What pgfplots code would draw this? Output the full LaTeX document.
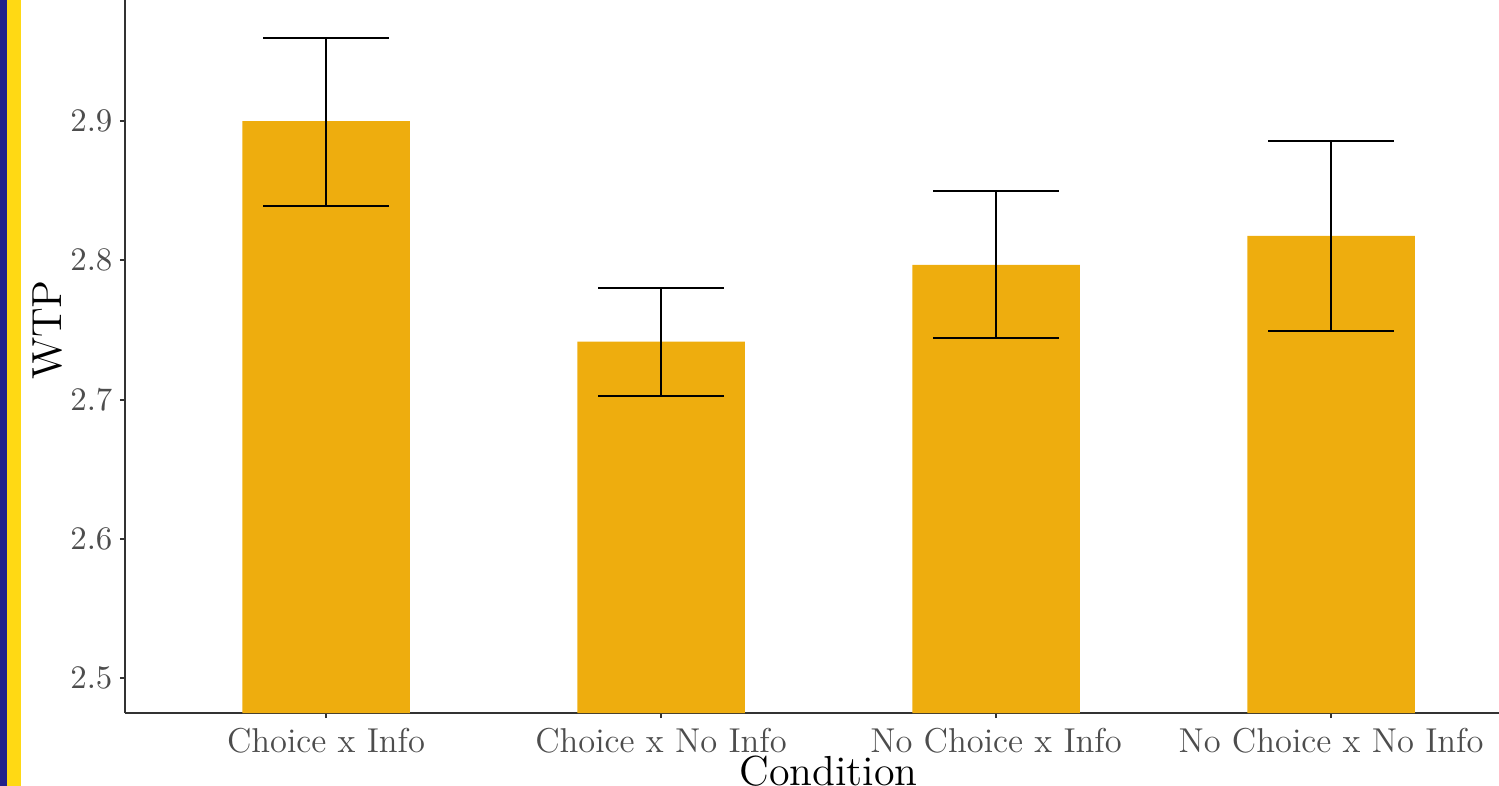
\documentclass[border=0pt]{standalone}
\usepackage{pgfplots}
\pgfplotsset{compat=1.18}
\definecolor{barc}{RGB}{238,173,14}
\definecolor{tickc}{RGB}{77,77,77}
\definecolor{axc}{RGB}{51,51,51}
\definecolor{stripeblue}{RGB}{34,34,138}
\definecolor{stripeyellow}{RGB}{255,217,20}
\begin{document}
\begin{tikzpicture}
\begin{axis}[
  at={(0,0)}, anchor=south west,
  scale only axis, width=469pt, height=255.33pt,
  xmin=0.4, xmax=4.6, ymin=2.475, ymax=3.025,
  axis lines*=left,
  axis line style={axc, line width=0.6pt},
  tick style={axc, line width=0.6pt},
  tick align=outside, major tick length=1.7pt,
  xtick={1,2,3,4},
  xticklabels={Choice x Info, Choice x No Info, No Choice x Info, No Choice x No Info},
  ytick={2.5,2.6,2.7,2.8,2.9},
  yticklabel style={/pgf/number format/fixed, /pgf/number format/precision=1, /pgf/number format/fixed zerofill, font=\fontsize{11}{13}\selectfont, xshift=1pt},
  xticklabel style={font=\fontsize{11.5}{13}\selectfont},
  ticklabel style={text=tickc},
  xlabel={Condition}, ylabel={WTP},
  label style={font=\fontsize{14}{16}\selectfont, text=black},
  xlabel style={at={(axis description cs:0.5,0)}, anchor=north, inner sep=0pt, yshift=-14pt},
  ylabel style={at={(axis description cs:0,0.5)}, anchor=center, inner sep=0pt, rotate=0, yshift=25.7pt},
  clip=true,
]
\addplot[ybar, bar width=0.5, fill=barc, draw=none] coordinates {
  (1,2.900) (2,2.7416) (3,2.7968) (4,2.8176)
};
\addplot[draw=none, mark=none, forget plot,
  error bars/.cd, y dir=both, y explicit,
  error bar style={black, line width=0.6pt},
  error mark options={rotate=90, mark size=21pt, black, line width=0.6pt}]
  coordinates {
  (1,2.900) += (0,0.0595) -= (0,0.0610)
  (2,2.7416) += (0,0.0384) -= (0,0.0387)
  (3,2.7968) += (0,0.0530) -= (0,0.0524)
  (4,2.8176) += (0,0.0681) -= (0,0.0681)
};
\end{axis}
\pgfresetboundingbox
\useasboundingbox (-41.67pt,-24.33pt) rectangle (458pt,237.67pt);
\fill[stripeblue] (-41.67pt,-24.33pt) rectangle (-39.33pt,237.67pt);
\fill[stripeyellow] (-39.33pt,-24.33pt) rectangle (-34.67pt,237.67pt);
\end{tikzpicture}
\end{document}
